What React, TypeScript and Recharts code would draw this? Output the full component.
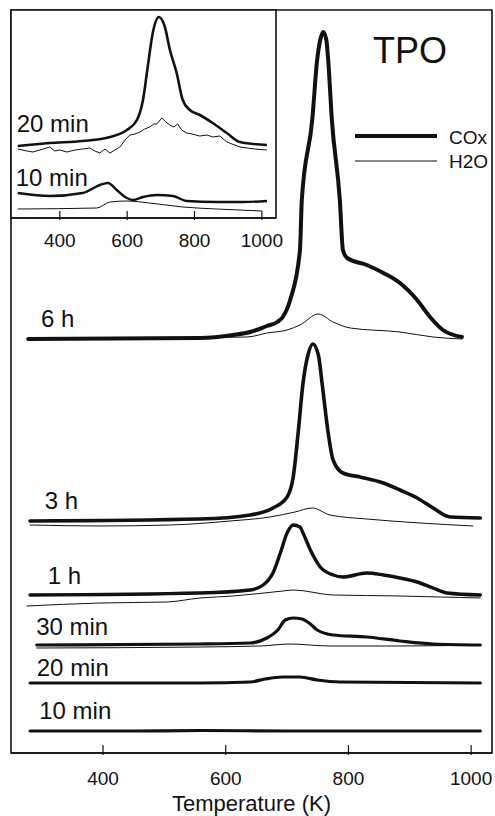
import React from "react";
import { LineChart, Line, XAxis, YAxis, ReferenceDot, ReferenceArea } from "recharts";

// [temperature (K), signal above the trace baseline (a.u.)]
type Pt = [number, number];

const INK = "#111";
const FONT = '"Liberation Sans", Arial, Helvetica, sans-serif';

const TICKS = [400, 600, 800, 1000];
const MAIN_T: [number, number] = [250, 1034];
const MAIN_Y: [number, number] = [0, 743];
const INSET_T: [number, number] = [255, 1042];
const INSET_Y: [number, number] = [0, 208];

// stacking offsets of the main panel traces
const BASE_6H = 414;
const BASE_3H = 232;
const BASE_1H = 158;
const BASE_30M = 108;
const BASE_20M = 70;
const BASE_10M = 22;

const cox6h: Pt[] = [
  [278, 0], [558, 1], [612, 4], [640, 7], [667, 13], [684, 17], [693, 22], [705, 39],
  [721, 89], [724, 139], [741, 219], [749, 279], [754, 299], [759, 307], [764, 299],
  [767, 279], [773, 219], [786, 139], [791, 89], [798, 81], [830, 74], [857, 66],
  [884, 56], [912, 39], [933, 22], [954, 9], [985, 2],
];
const h2o6h: Pt[] = [
  [278, 0], [635, 2], [667, 6], [700, 9], [721, 14], [751, 25], [775, 17], [803, 11],
  [884, 7], [938, 2], [985, 0],
];

const cox3h: Pt[] = [
  [281, 0], [558, 2], [640, 6], [677, 13], [700, 24], [710, 44], [718, 88], [726, 138],
  [734, 166], [742, 177], [751, 166], [757, 138], [767, 88], [775, 61], [791, 48],
  [819, 44], [857, 38], [884, 31], [912, 23], [938, 13], [966, 4], [1015, 3],
];
const h2o3h: Pt[] = [
  [281, -4], [395, -5], [509, -4], [607, 0], [672, 4], [713, 9], [741, 13], [770, 6],
  [830, 2], [917, -2], [1003, -5],
];

const cox1h: Pt[] = [
  [281, 0], [558, 2], [640, 5], [661, 10], [677, 22], [689, 42], [700, 62], [710, 70],
  [721, 68], [726, 62], [738, 45], [754, 28], [775, 20], [791, 18], [830, 22], [857, 20],
  [884, 17], [912, 13], [938, 7], [961, 2], [1015, 0],
];
const h2o1h: Pt[] = [
  [276, -11], [395, -8], [504, -7], [558, -3], [612, -1], [693, 4], [710, 5], [775, 0],
  [884, -1], [950, -2], [1015, -3],
];

const cox30m: Pt[] = [
  [292, 0], [558, 1], [640, 2], [667, 7], [685, 15], [697, 25], [710, 27], [724, 26],
  [738, 21], [749, 15], [775, 10], [830, 8], [884, 4], [938, 1], [1015, 0],
];
const h2o30m: Pt[] = [
  [292, -3], [558, -2], [656, -1], [705, 1], [770, -1], [884, -1], [1015, 0],
];

const cox20m: Pt[] = [
  [281, 0], [558, 0], [640, 1], [664, 4], [693, 6], [721, 6], [749, 3], [786, 1], [1015, 0],
];

const cox10m: Pt[] = [
  [281, 0], [450, 0], [560, 0.5], [700, 0], [850, 0], [1015, 0],
];

// inset: first minutes of oxidation
const INSET_BASE_20M = 72;
const INSET_BASE_10M = 17;

const insetCox20m: Pt[] = [
  [275, 0], [370, 3], [468, 5], [549, 9], [599, 16], [629, 26], [647, 46], [661, 79],
  [676, 113], [694, 129], [712, 119], [727, 96], [747, 73], [765, 46], [786, 36],
  [816, 31], [854, 23], [896, 13], [935, 4], [1015, 1],
];
const insetH2o20m: Pt[] = [
  [275, -3], [302, -5], [320, -6], [341, -4], [370, -1], [385, -5], [400, -4], [421, -6],
  [445, -4], [468, -3], [489, -2], [504, -5], [519, -7], [534, -3], [549, -7], [563, -4],
  [578, -1], [599, 8], [608, 11], [623, 12], [638, 14], [652, 17], [667, 19], [679, 22],
  [688, 22], [703, 28], [715, 24], [727, 21], [739, 19], [750, 22], [762, 16], [777, 13],
  [792, 12], [816, 10], [837, 11], [854, 9], [875, 10], [896, 4], [935, -1], [979, -3],
  [1015, -4],
];
const insetCox10m: Pt[] = [
  [275, 8], [370, 5], [468, 8], [519, 16], [543, 18], [569, 11], [599, 3], [617, 1],
  [647, 4], [688, 6], [736, 5], [777, 0], [866, -1], [944, -1], [1015, 0],
];
const insetH2o10m: Pt[] = [
  [275, -8], [510, -7], [549, -1], [599, 0], [667, -2], [765, -6], [866, -8], [1000, -10],
];

// curve labels: [text, temperature where text starts, height of text centre]
const mainLabels: [string, number, number][] = [
  ["6 h", 299, 435],
  ["3 h", 305, 253],
  ["1 h", 310, 178],
  ["30 min", 291, 127],
  ["20 min", 292, 86],
  ["10 min", 296, 43],
];
const insetLabels: [string, number, number][] = [
  ["20 min", 272, 95],
  ["10 min", 269, 41],
];

const toRows = (pts: Pt[], base: number) => pts.map(([t, s]) => ({ t, v: base + s }));

const mainSeries = [
  { id: "h2o6h", rows: toRows(h2o6h, BASE_6H), w: 1 },
  { id: "h2o3h", rows: toRows(h2o3h, BASE_3H), w: 1 },
  { id: "h2o1h", rows: toRows(h2o1h, BASE_1H), w: 1 },
  { id: "h2o30m", rows: toRows(h2o30m, BASE_30M), w: 1 },
  { id: "cox6h", rows: toRows(cox6h, BASE_6H), w: 4 },
  { id: "cox3h", rows: toRows(cox3h, BASE_3H), w: 3.6 },
  { id: "cox1h", rows: toRows(cox1h, BASE_1H), w: 3.4 },
  { id: "cox30m", rows: toRows(cox30m, BASE_30M), w: 3.2 },
  { id: "cox20m", rows: toRows(cox20m, BASE_20M), w: 3.2 },
  { id: "cox10m", rows: toRows(cox10m, BASE_10M), w: 3.2 },
];

const insetSeries = [
  { id: "ih2o20m", rows: toRows(insetH2o20m, INSET_BASE_20M), w: 1, curve: "linear" },
  { id: "ih2o10m", rows: toRows(insetH2o10m, INSET_BASE_10M), w: 1, curve: "monotone" },
  { id: "icox20m", rows: toRows(insetCox20m, INSET_BASE_20M), w: 2.6, curve: "monotone" },
  { id: "icox10m", rows: toRows(insetCox10m, INSET_BASE_10M), w: 2.4, curve: "monotone" },
];

const frame = { stroke: INK, strokeWidth: 1.6 };

// tick mark pointing up into the plot, value printed below the axis
function InwardTick(props: any) {
  const { x, y, payload, len, gap, size } = props;
  return (
    <g>
      <line x1={x} x2={x} y1={y - len} y2={y} stroke={INK} strokeWidth={1.2} />
      <text x={x} y={y + gap} textAnchor="middle" fontSize={size} fill={INK} fontFamily={FONT}>
        {payload.value}
      </text>
    </g>
  );
}

function MainPanel() {
  return (
    <LineChart width={495} height={816} margin={{ top: 10, right: 3, bottom: 0, left: 11 }}>
      <XAxis
        dataKey="t"
        type="number"
        domain={MAIN_T}
        ticks={TICKS}
        allowDataOverflow
        height={63}
        tickSize={0}
        tickLine={false}
        axisLine={frame}
        tick={<InwardTick len={10} gap={30} size={19} />}
        label={{ value: "Temperature (K)", position: "insideBottom", offset: 5, fontSize: 22, fill: INK }}
      />
      <YAxis type="number" domain={MAIN_Y} hide />
      {/* box around the plot area */}
      <ReferenceArea
        x1={MAIN_T[0]}
        x2={MAIN_T[1]}
        y1={MAIN_Y[0]}
        y2={MAIN_Y[1]}
        fill="none"
        stroke={INK}
        strokeWidth={1.6}
        ifOverflow="visible"
      />
      {mainSeries.map((s) => (
        <Line
          key={s.id}
          data={s.rows}
          dataKey="v"
          type="monotone"
          stroke={INK}
          strokeWidth={s.w}
          strokeLinejoin="round"
          strokeLinecap="round"
          dot={false}
          activeDot={false}
          isAnimationActive={false}
        />
      ))}
      {mainLabels.map(([text, t, v]) => (
        <ReferenceDot
          key={text}
          x={t}
          y={v}
          r={0}
          fill="none"
          stroke="none"
          label={{ value: text, position: "right", offset: 0, fontSize: 24, fill: INK }}
        />
      ))}
    </LineChart>
  );
}

function InsetPanel() {
  return (
    <LineChart width={300} height={250} margin={{ top: 10, right: 24, bottom: 0, left: 11 }}>
      <XAxis
        dataKey="t"
        type="number"
        domain={INSET_T}
        ticks={TICKS}
        allowDataOverflow
        height={32}
        tickSize={0}
        tickLine={false}
        axisLine={frame}
        tick={<InwardTick len={9} gap={27} size={19} />}
      />
      <YAxis type="number" domain={INSET_Y} hide />
      <ReferenceArea
        x1={INSET_T[0]}
        x2={INSET_T[1]}
        y1={INSET_Y[0]}
        y2={INSET_Y[1]}
        fill="#fff"
        fillOpacity={1}
        stroke={INK}
        strokeWidth={1.6}
        ifOverflow="visible"
      />
      {insetSeries.map((s) => (
        <Line
          key={s.id}
          data={s.rows}
          dataKey="v"
          type={s.curve as any}
          stroke={INK}
          strokeWidth={s.w}
          strokeLinejoin="round"
          dot={false}
          activeDot={false}
          isAnimationActive={false}
        />
      ))}
      {insetLabels.map(([text, t, v]) => (
        <ReferenceDot
          key={text}
          x={t}
          y={v}
          r={0}
          fill="none"
          stroke="none"
          label={{ value: text, position: "right", offset: 0, fontSize: 24, fill: INK }}
        />
      ))}
    </LineChart>
  );
}

// title and line-style key in the upper right corner
function Key() {
  return (
    <svg width={145} height={180} style={{ position: "absolute", left: 350, top: 0 }}>
      <text x={23} y={63} fontSize={36} fill={INK} fontFamily={FONT}>
        TPO
      </text>
      <line x1={5} x2={87} y1={136} y2={136} stroke={INK} strokeWidth={4} />
      <text x={99} y={144} fontSize={19} fill={INK} fontFamily={FONT}>
        COx
      </text>
      <line x1={5} x2={87} y1={161} y2={161} stroke={INK} strokeWidth={1} />
      <text x={99} y={168} fontSize={19} fill={INK} fontFamily={FONT}>
        H2O
      </text>
    </svg>
  );
}

export default function App() {
  return (
    <div style={{ position: "relative", width: 495, height: 816, background: "#fff", fontFamily: FONT, color: INK }}>
      <style>{"body{margin:0}"}</style>
      <div style={{ position: "absolute", left: 0, top: 0 }}>
        <MainPanel />
      </div>
      <div style={{ position: "absolute", left: 0, top: 0 }}>
        <InsetPanel />
      </div>
      <Key />
    </div>
  );
}
